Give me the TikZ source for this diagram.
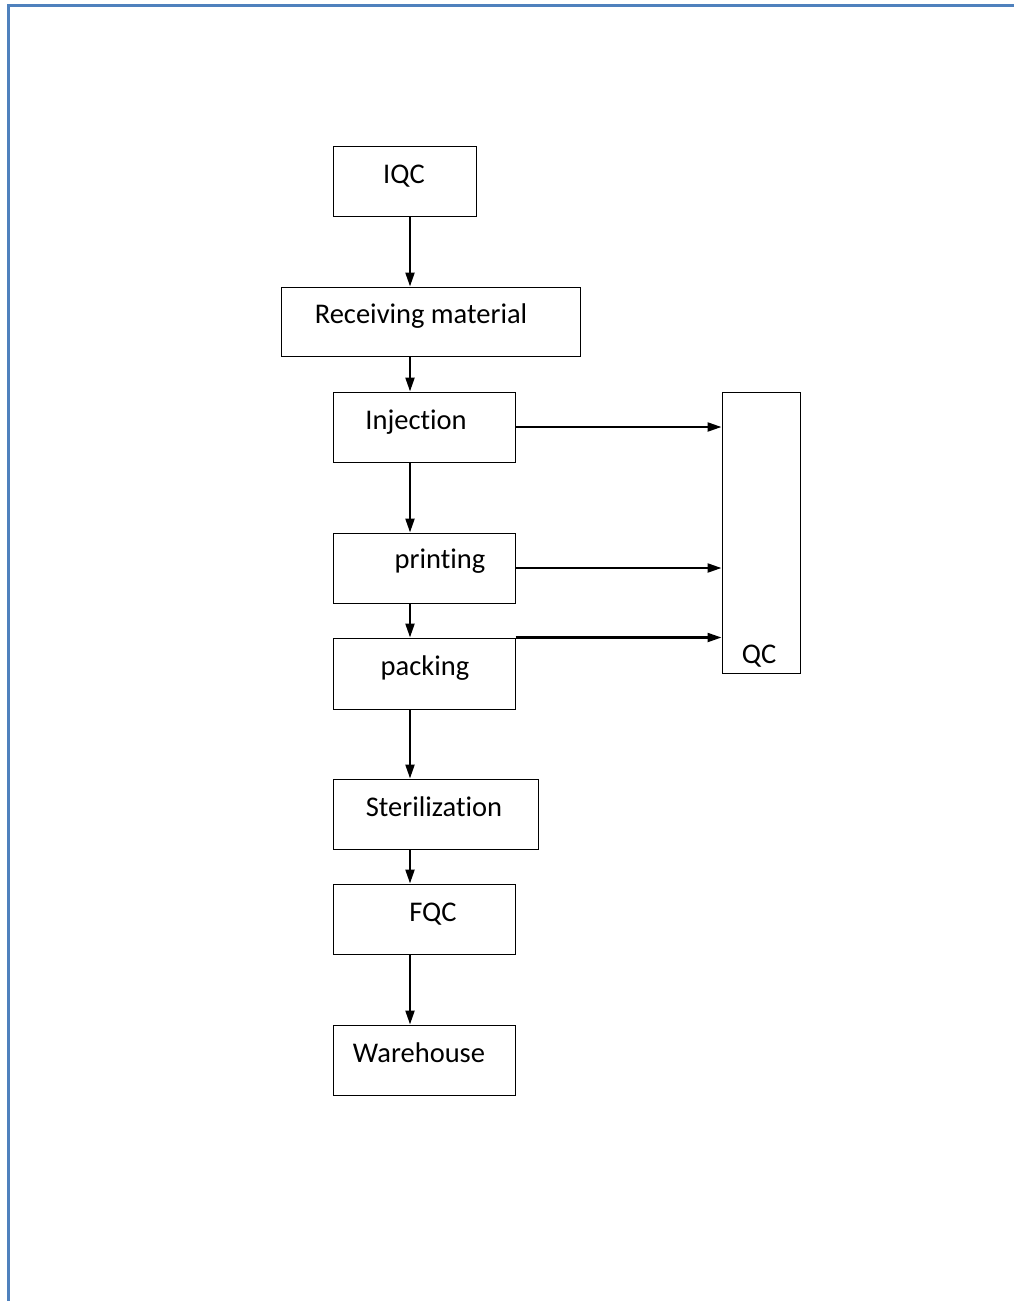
\documentclass[tikz,border=0pt]{standalone}
\usepackage{fontspec}
\setmainfont[Ligatures={NoCommon}]{Carlito}
\usetikzlibrary{arrows.meta}
\definecolor{frameblue}{HTML}{4F81BD}
\begin{document}
\begin{tikzpicture}[x=1pt,y=-1pt,
  box/.style={draw=black,line width=1pt,rectangle,inner sep=0pt},
  lbl/.style={font=\fontsize{28.5}{32}\selectfont,inner sep=0pt,anchor=base},
  conn/.style={line width=2.2pt,-{Triangle[length=14pt,width=9pt]}}]
\useasboundingbox (0,0) rectangle (1014,1301);
\draw[frameblue,line width=3pt] (8,1301) -- (8,5) -- (1014,5);
% boxes
\node[box,minimum width=143pt,minimum height=70pt] (iqc) at (404.5,181) {};
\node[box,minimum width=299pt,minimum height=69pt] (recv) at (430.5,321.5) {};
\node[box,minimum width=182pt,minimum height=70pt] (inj) at (424,427) {};
\node[box,minimum width=182pt,minimum height=70pt] (print) at (424,568) {};
\node[box,minimum width=182pt,minimum height=71pt] (pack) at (424,673.5) {};
\node[box,minimum width=205pt,minimum height=70pt] (ster) at (435.5,814) {};
\node[box,minimum width=182pt,minimum height=70pt] (fqc) at (424,919) {};
\node[box,minimum width=182pt,minimum height=70pt] (wh) at (424,1060) {};
\node[box,minimum width=78pt,minimum height=281pt] (qc) at (761,532.5) {};
% labels
\node[lbl] (tiqc) at (404,183) {IQC};
\node[lbl] (trecv) at (421,323) {Receiving material};
\node[lbl] (tinj) at (416,429) {Injection};
\node[lbl] (tprint) at (440,568) {printing};
\node[lbl] (tpack) at (425,675) {packing};
\node[lbl] (tster) at (434,816) {Sterilization};
\node[lbl] (tfqc) at (433,921) {FQC};
\node[lbl] (twh) at (419,1062) {Warehouse};
\node[lbl] (tqc) at (759,663) {QC};
% vertical connectors
\coordinate (x0) at (410,0);
\draw[conn] (iqc.south -| x0) -- (recv.north -| x0);
\draw[conn] (recv.south -| x0) -- (inj.north -| x0);
\draw[conn] (inj.south -| x0) -- (print.north -| x0);
\draw[conn] (print.south -| x0) -- (pack.north -| x0);
\draw[conn] (pack.south -| x0) -- (ster.north -| x0);
\draw[conn] (ster.south -| x0) -- (fqc.north -| x0);
\draw[conn] (fqc.south -| x0) -- (wh.north -| x0);
% horizontal connectors
\draw[conn] (inj.east) -- (qc.west |- inj.east);
\draw[conn] (print.east) -- (qc.west |- print.east);
\draw[conn] (pack.north east) -- (qc.west |- pack.north east);
\end{tikzpicture}
\end{document}
